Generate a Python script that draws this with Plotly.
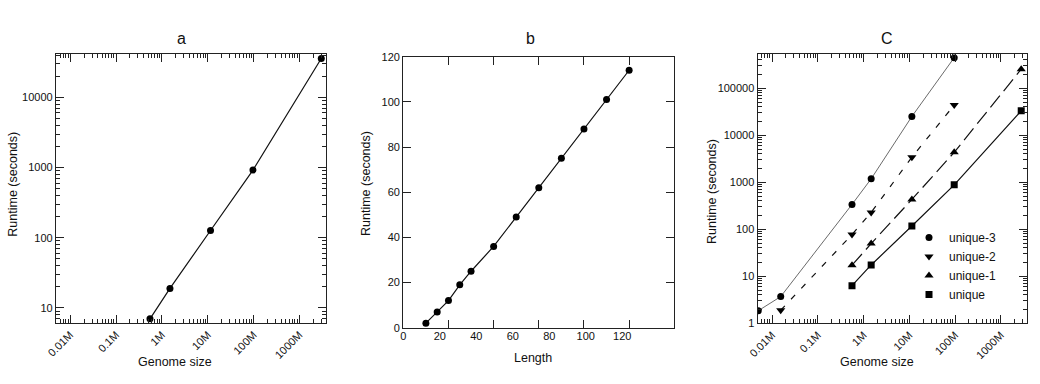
import plotly.graph_objects as go

# ---------------- data ----------------
# panel a
genome_size_a = [0.55e6, 1.5e6, 11.5e6, 97e6, 3.0e9]
runtime_a = [7.0, 19, 127, 920, 35700]

# panel b
length_b = [10, 15, 20, 25, 30, 40, 50, 60, 70, 80, 90, 100]
runtime_b = [2, 7, 12, 19, 25, 36, 49, 62, 75, 88, 101, 114]
length_tick_marks = [20, 40, 60, 80, 100]
length_tick_labels = [0, 20, 40, 60, 80, 100, 120]

# panel c
size_u3 = [5.0e3, 15.5e3, 0.56e6, 1.47e6, 11.4e6, 96e6]
runtime_u3 = [1.85, 3.7, 337, 1180, 25000, 445000]
size_u2 = [15.5e3, 0.56e6, 1.47e6, 11.4e6, 96e6]
runtime_u2 = [1.9, 77, 228, 3400, 43700]
size_u1 = [0.56e6, 1.47e6, 11.4e6, 96e6, 2.8e9]
runtime_u1 = [17.2, 49.5, 430, 4320, 253000]
size_u0 = [0.56e6, 1.47e6, 11.4e6, 96e6, 2.8e9]
runtime_u0 = [6.3, 17.4, 117, 880, 33000]

genome_tickvals = [1e4, 1e5, 1e6, 1e7, 1e8, 1e9]
genome_ticktext = ["0.01M", "0.1M", "1M", "10M", "100M", "1000M"]
runtime_tickvals_a = [10, 100, 1000, 10000]
runtime_tickvals_c = [1, 10, 100, 1000, 10000, 100000]
runtime_tickvals_b = [0, 20, 40, 60, 80, 100, 120]

# ---------------- style ----------------
FONT = "Liberation Sans, Arial, sans-serif"
AX = "#222222"
TICKFONT = dict(family=FONT, size=11, color="#111111")


def log_minor(lo, hi):
    return [k * 10 ** d for d in range(lo, hi) for k in range(2, 10)]


def base_axis(**kw):
    d = dict(showline=True, linecolor=AX, linewidth=1.3, mirror="ticks",
             ticks="inside", ticklen=8, tickwidth=1, tickcolor=AX,
             showgrid=False, zeroline=False, tickfont=TICKFONT, automargin=False)
    d.update(kw)
    return d


fig = go.Figure()

# panel a
fig.add_trace(go.Scatter(x=genome_size_a, y=runtime_a, mode="lines+markers",
                         line=dict(color="#111", width=1.2),
                         marker=dict(symbol="circle", size=7, color="#000"),
                         xaxis="x", yaxis="y", showlegend=False))

# panel b
fig.add_trace(go.Scatter(x=length_b, y=runtime_b, mode="lines+markers",
                         line=dict(color="#111", width=1.2),
                         marker=dict(symbol="circle", size=7, color="#000"),
                         xaxis="x2", yaxis="y2", showlegend=False))
fig.add_trace(go.Scatter(x=[], y=[], xaxis="x4", yaxis="y2", showlegend=False,
                         hoverinfo="skip"))

# panel c
series_c = [
    ("unique-3", size_u3, runtime_u3, "circle", 7, dict(color="#444", width=0.8, dash="solid")),
    ("unique-2", size_u2, runtime_u2, "triangle-down", 8, dict(color="#111", width=1.2, dash="6px,9px")),
    ("unique-1", size_u1, runtime_u1, "triangle-up", 8, dict(color="#111", width=1.2, dash="15px,6px")),
    ("unique", size_u0, runtime_u0, "square", 7, dict(color="#111", width=1.2, dash="solid")),
]
for name, xs, ys, sym, sz, ln in series_c:
    fig.add_trace(go.Scatter(x=xs, y=ys, mode="lines", line=ln, xaxis="x3", yaxis="y3",
                             showlegend=False, legendgroup=name))
    fig.add_trace(go.Scatter(x=xs, y=ys, mode="markers", name=name,
                             marker=dict(symbol=sym, size=sz, color="#000"),
                             xaxis="x3", yaxis="y3", legendgroup=name))

H = 384.0
W = 1040.0


def px_x(v):
    return v / W


def px_y(v):
    return 1 - v / H


minor_x = dict(tickmode="array", tickvals=log_minor(3, 10), ticks="inside",
               ticklen=4, tickwidth=1, tickcolor=AX)

fig.update_layout(
    width=1040, height=384, autosize=False,
    margin=dict(l=0, r=0, t=0, b=0, autoexpand=False),
    paper_bgcolor="white", plot_bgcolor="white",
    font=dict(family=FONT, size=12, color="#111"),
    xaxis=base_axis(type="log", domain=[px_x(56), px_x(326)], range=[3.69, 9.58],
                    tickmode="array", tickvals=genome_tickvals, ticktext=genome_ticktext,
                    tickangle=-45, minor=minor_x, anchor="y"),
    yaxis=base_axis(type="log", domain=[px_y(323), px_y(54)], range=[0.786, 4.617],
                    tickmode="array", tickvals=runtime_tickvals_a,
                    ticktext=[str(v) for v in runtime_tickvals_a],
                    minor=dict(tickmode="array", tickvals=log_minor(0, 5), ticks="inside",
                               ticklen=4, tickwidth=1, tickcolor=AX), anchor="x"),
    xaxis2=base_axis(domain=[px_x(403.3), px_x(674.3)], range=[0, 120],
                     tickmode="array", tickvals=length_tick_marks, showticklabels=False,
                     anchor="y2"),
    xaxis4=dict(overlaying="x2", anchor="y2", range=[0, 148.5], tickmode="array",
                tickvals=length_tick_labels, ticktext=[str(v) for v in length_tick_labels],
                ticks="", showline=False, showgrid=False, zeroline=False, automargin=False,
                tickfont=TICKFONT, side="bottom"),
    yaxis2=base_axis(domain=[px_y(327.7), px_y(56.7)], range=[0, 120],
                     tickmode="array", tickvals=runtime_tickvals_b,
                     ticktext=[str(v) for v in runtime_tickvals_b], anchor="x2"),
    xaxis3=base_axis(type="log", domain=[px_x(757.7), px_x(1027.3)], range=[3.687, 9.58],
                     tickmode="array", tickvals=genome_tickvals, ticktext=genome_ticktext,
                     tickangle=-45, minor=minor_x, anchor="y3"),
    yaxis3=base_axis(type="log", domain=[px_y(323.3), px_y(54.3)], range=[0, 5.72],
                     tickmode="array", tickvals=runtime_tickvals_c,
                     ticktext=[str(v) for v in runtime_tickvals_c],
                     minor=dict(tickmode="array", tickvals=log_minor(0, 6), ticks="inside",
                                ticklen=4, tickwidth=1, tickcolor=AX), anchor="x3"),
    legend=dict(x=px_x(909), y=px_y(223), xanchor="left", yanchor="top",
                bgcolor="rgba(0,0,0,0)", font=dict(family=FONT, size=12, color="#111"),
                itemwidth=30, tracegroupgap=0),
)

ann_font = dict(family=FONT, size=12.5, color="#111")
title_font = dict(family=FONT, size=16, color="#111")
annotations = [
    dict(text="a", x=px_x(181.7), y=px_y(38), font=title_font),
    dict(text="b", x=px_x(530), y=px_y(38), font=title_font),
    dict(text="C", x=px_x(886.7), y=px_y(38), font=title_font),
    dict(text="Genome size", x=px_x(175), y=px_y(362), font=ann_font),
    dict(text="Length", x=px_x(533.3), y=px_y(358), font=ann_font),
    dict(text="Genome size", x=px_x(876.7), y=px_y(362), font=ann_font),
    dict(text="Runtime (seconds)", x=px_x(12.7), y=px_y(184), textangle=-90, font=ann_font),
    dict(text="Runtime (seconds)", x=px_x(366.7), y=px_y(183.3), textangle=-90, font=ann_font),
    dict(text="Runtime (seconds)", x=px_x(711.3), y=px_y(191.7), textangle=-90, font=ann_font),
]
for a in annotations:
    a.update(xref="paper", yref="paper", showarrow=False, xanchor="center", yanchor="middle")
fig.update_layout(annotations=annotations)

fig.write_html("out.html", config={"displayModeBar": False},
               post_script="document.body.style.margin='0';")
